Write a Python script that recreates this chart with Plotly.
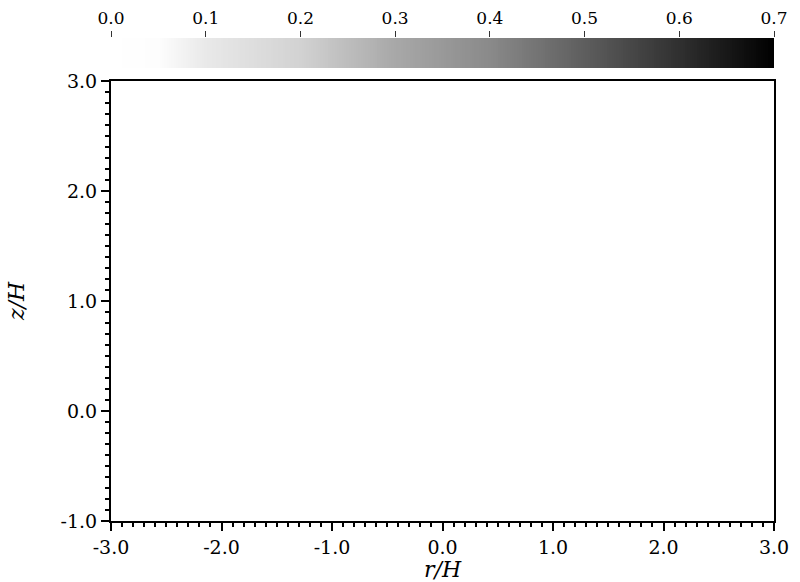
import numpy as np
import plotly.graph_objects as go

# ---- data ----
r_values = [-3.0, -2.0, -1.0, 0.0, 1.0, 2.0, 3.0]
z_values = [-1.0, 0.0, 1.0, 2.0, 3.0]
density = [
    [0.0, 0.0, 0.0, 0.0, 0.0, 0.0, 0.0],
    [0.0, 0.0, 0.0, 0.0, 0.0, 0.0, 0.0],
    [0.0, 0.0, 0.0, 0.0, 0.0, 0.0, 0.0],
    [0.0, 0.0, 0.0, 0.0, 0.0, 0.0, 0.0],
    [0.0, 0.0, 0.0, 0.0, 0.0, 0.0, 0.0],
]

x_tick_vals = [-3.0, -2.0, -1.0, 0.0, 1.0, 2.0, 3.0]
x_tick_labels = ["-3.0", "-2.0", "-1.0", "0.0", "1.0", "2.0", "3.0"]
y_tick_vals = [-1.0, 0.0, 1.0, 2.0, 3.0]
y_tick_labels = ["-1.0", "0.0", "1.0", "2.0", "3.0"]
cbar_tick_vals = [0.0, 0.1, 0.2, 0.3, 0.4, 0.5, 0.6, 0.7]
cbar_tick_labels = ["0.0", "0.1", "0.2", "0.3", "0.4", "0.5", "0.6", "0.7"]
x_title = "<i>r/H</i>"
y_title = "<i>z/H</i>"

zmin, zmax = 0.0, 0.7
colorscale = [
    [0.0, "rgb(255,255,255)"],
    [0.07, "rgb(253,253,253)"],
    [0.143, "rgb(233,233,233)"],
    [0.286, "rgb(210,210,210)"],
    [0.429, "rgb(168,168,168)"],
    [0.571, "rgb(138,138,138)"],
    [0.714, "rgb(94,94,94)"],
    [0.857, "rgb(48,48,48)"],
    [1.0, "rgb(0,0,0)"],
]

# colour-bar gradient strip (scale levels, not data)
colorbar_levels = np.linspace(zmin, zmax, 281)

FONT = "DejaVu Serif"

fig = go.Figure()

fig.add_trace(go.Heatmap(
    x=r_values, y=z_values, z=density,
    colorscale=colorscale, zmin=zmin, zmax=zmax,
    showscale=False, zsmooth="best",
    xaxis="x", yaxis="y", hoverinfo="skip",
))

fig.add_trace(go.Heatmap(
    x=colorbar_levels, y=[0.5], z=[colorbar_levels],
    colorscale=colorscale, zmin=zmin, zmax=zmax,
    showscale=False, xaxis="x2", yaxis="y2", hoverinfo="skip",
))

W, H = 800, 582
mt, mb, ml, mr = 38, 61, 111, 26
ph = H - mt - mb
main_top = 440 / ph
strip_bot = (440 + 13) / ph

axis_common = dict(
    showline=True, linecolor="black", linewidth=2, mirror=True,
    ticks="outside", ticklen=8, tickwidth=2, tickcolor="black",
    showgrid=False, zeroline=False, automargin=False,
    tickfont=dict(family=FONT, size=19, color="black"),
)

fig.update_layout(
    width=W, height=H,
    margin=dict(l=ml, r=mr, t=mt, b=mb, autoexpand=False),
    paper_bgcolor="white", plot_bgcolor="white",
    showlegend=False,
    xaxis=dict(
        domain=[0, 1], range=[-3, 3], anchor="y",
        tickmode="array", tickvals=x_tick_vals, ticktext=x_tick_labels,
        minor=dict(dtick=0.1, tick0=0, ticks="outside", ticklen=4,
                   tickwidth=1.5, tickcolor="black", showgrid=False),
        **axis_common,
    ),
    yaxis=dict(
        domain=[0, main_top], range=[-1, 3], anchor="x",
        tickmode="array", tickvals=y_tick_vals, ticktext=y_tick_labels,
        minor=dict(dtick=0.1, tick0=0, ticks="outside", ticklen=4,
                   tickwidth=1.5, tickcolor="black", showgrid=False),
        **axis_common,
    ),
    xaxis2=dict(
        domain=[0, 1], range=[zmin, zmax], anchor="y2", side="top",
        tickmode="array", tickvals=cbar_tick_vals, ticktext=cbar_tick_labels,
        ticks="outside", ticklen=6, tickwidth=1, tickcolor="#333333",
        showline=False, showgrid=False, zeroline=False, automargin=False,
        tickfont=dict(family=FONT, size=17, color="black"),
    ),
    yaxis2=dict(
        domain=[strip_bot, 1], range=[0, 1], anchor="x2", automargin=False,
        showticklabels=False, ticks="", showline=False, showgrid=False, zeroline=False,
    ),
    annotations=[
        dict(text=x_title, xref="x domain", yref="y domain", x=0.5, y=0,
             xanchor="center", yanchor="middle", yshift=-48, showarrow=False,
             font=dict(family=FONT, size=22, color="black")),
        dict(text=y_title, xref="x domain", yref="y domain", x=0, y=0.5,
             xanchor="center", yanchor="middle", xshift=-95, textangle=-90,
             showarrow=False, font=dict(family=FONT, size=22, color="black")),
    ],
)

fig.write_html("out.html",
               config={"displayModeBar": False},
               post_script="document.body.style.margin='0';document.body.style.overflow='hidden';")
